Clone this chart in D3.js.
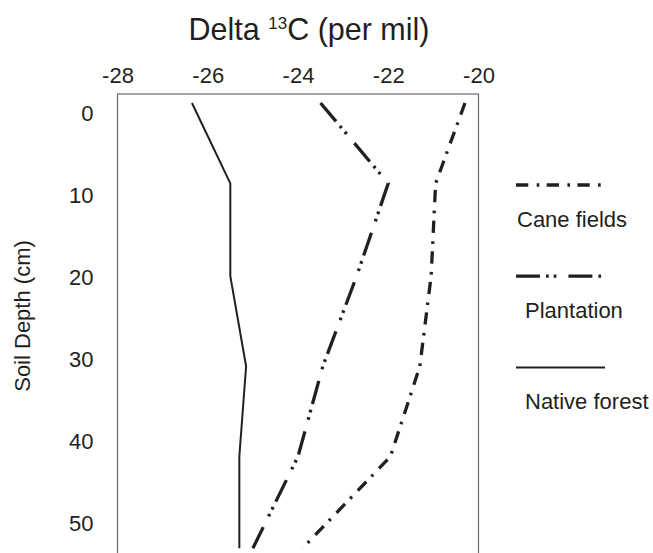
<!DOCTYPE html>
<html>
<head>
<meta charset="utf-8">
<script src="https://cdn.jsdelivr.net/npm/d3@7"></script>
<style>
  body { margin: 0; background: #fff; }
  svg { display: block; }
  text { font-family: "Liberation Sans", Arial, Helvetica, sans-serif; fill: #231f20; }
</style>
</head>
<body>
<svg id="chart" width="653" height="553"></svg>
<script>
// Soil depth (cm) of each sampled layer and the δ13C value measured in it
const depths       = [-1.3, 8.5, 19.8, 30.8, 41.8, 53.0];
const caneFields   = [-20.3, -20.95, -21.05, -21.3, -21.95, -23.9];
const plantation   = [-23.5, -22.0, -22.7, -23.45, -24.0, -25.0];
const nativeForest = [-26.35, -25.5, -25.5, -25.15, -25.3, -25.3];

const seriesNames = ["Cane fields", "Plantation", "Native forest"];
const xTicks = [-28, -26, -24, -22, -20];
const yTicks = [0, 10, 20, 30, 40, 50];

const svg = d3.select("#chart");
const ink = "#231f20";
const fmt = d => String(d);   // plain hyphen for negative values

const x = d3.scaleLinear().domain([-28, -20]).range([117.5, 478.5]);
const y = d3.scaleLinear().domain([0, 50]).range([113.7, 523.7]);
const topDepth = -2.4;     // upper edge of the plotting frame
const bottomDepth = 58;    // frame runs past the lower edge of the page

// plotting frame
svg.append("rect")
  .attr("x", x(-28)).attr("y", y(topDepth))
  .attr("width", x(-20) - x(-28)).attr("height", y(bottomDepth) - y(topDepth))
  .attr("fill", "none").attr("stroke", "#6b6b6b").attr("stroke-width", 1.2);

// δ13C axis along the top
const xAxis = svg.append("g")
  .attr("transform", `translate(0,${y(topDepth)})`)
  .call(d3.axisTop(x).tickValues(xTicks).tickSize(0).tickPadding(11).tickFormat(fmt));
xAxis.select(".domain").remove();
xAxis.selectAll("text").attr("font-size", 22).attr("font-family", null).attr("fill", ink);

// depth axis on the left
const yAxis = svg.append("g")
  .attr("transform", `translate(${x(-28)},0)`)
  .call(d3.axisLeft(y).tickValues(yTicks).tickSize(0).tickPadding(24).tickFormat(fmt));
yAxis.select(".domain").remove();
yAxis.selectAll("text").attr("font-size", 22).attr("font-family", null).attr("fill", ink);

// axis titles
const title = svg.append("text")
  .attr("x", 309).attr("y", 40)
  .attr("text-anchor", "middle").attr("font-size", 30.5);
title.append("tspan").text("Delta ");
title.append("tspan").attr("font-size", 17).attr("dy", -11).text("13");
title.append("tspan").attr("dy", 11).text("C (per mil)");

svg.append("text")
  .attr("transform", "translate(30,316) rotate(-90)")
  .attr("text-anchor", "middle").attr("font-size", 22)
  .text("Soil Depth (cm)");

// series: values paired with depths
const series = [
  { name: seriesNames[0], values: caneFields,   dash: "12.3,8.4,2.6,7.4",  width: 3.3 },
  { name: seriesNames[1], values: plantation,   dash: "24,6,2.7,5,2.7,12", width: 3.3 },
  { name: seriesNames[2], values: nativeForest, dash: null,                width: 2 }
];

const line = d3.line()
  .x(d => x(d[0]))
  .y(d => y(d[1]));

svg.append("g").selectAll("path")
  .data(series)
  .join("path")
  .attr("d", s => line(s.values.map((v, i) => [v, depths[i]])))
  .attr("fill", "none")
  .attr("stroke", ink)
  .attr("stroke-width", s => s.width)
  .attr("stroke-dasharray", s => s.dash)
  .attr("stroke-linejoin", "miter");

// legend: sample line above each label
const legend = svg.append("g").selectAll("g")
  .data(series)
  .join("g")
  .attr("transform", (s, i) => `translate(516,${185 + i * 91.2})`);

legend.append("line")
  .attr("x1", 0).attr("x2", 89).attr("y1", 0).attr("y2", 0)
  .attr("stroke", ink)
  .attr("stroke-width", s => s.width)
  .attr("stroke-dasharray", s => s.dash);

legend.append("text")
  .attr("x", (s, i) => i === 0 ? 1 : 9)
  .attr("y", 42)
  .attr("font-size", 22)
  .text(s => s.name);
</script>
</body>
</html>
